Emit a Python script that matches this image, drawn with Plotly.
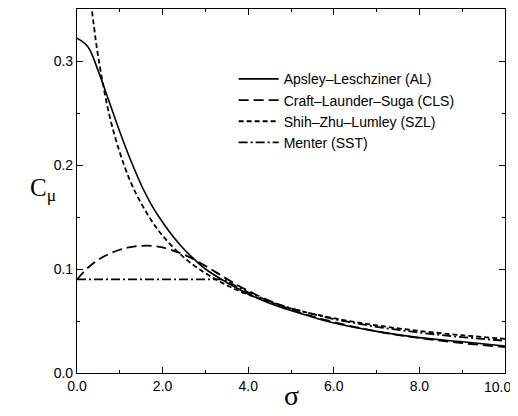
import plotly.graph_objects as go

# sigma grid and series values
sigma_al = [0, 0.25, 0.5, 0.75, 1.0, 1.25, 1.5, 1.75, 2.0, 2.25, 2.5, 2.75, 3.0, 3.5, 4.0, 4.5, 5.0, 6.0, 7.0, 8.0, 9.0, 10.0]
cmu_al = [0.322, 0.314, 0.290, 0.261, 0.232, 0.205, 0.181, 0.161, 0.145, 0.131, 0.119, 0.109, 0.100, 0.087, 0.076, 0.067, 0.060, 0.048, 0.040, 0.034, 0.030, 0.026]

sigma_cls = [0, 0.25, 0.5, 0.75, 1.0, 1.25, 1.5, 1.75, 2.0, 2.5, 3.0, 3.5, 4.0, 5.0, 6.0, 7.0, 8.0, 9.0, 10.0]
cmu_cls = [0.090, 0.101, 0.109, 0.1145, 0.1185, 0.121, 0.1223, 0.1223, 0.1207, 0.1138, 0.103, 0.0905, 0.079, 0.061, 0.049, 0.040, 0.0336, 0.0287, 0.0249]

sigma_szl = [0.2, 0.3, 0.4, 0.5, 0.75, 1.0, 1.25, 1.5, 1.75, 2.0, 2.5, 3.0, 3.5, 4.0, 5.0, 6.0, 7.0, 8.0, 9.0, 10.0]
cmu_szl = [0.409, 0.366, 0.332, 0.303, 0.249, 0.212, 0.184, 0.163, 0.146, 0.132, 0.111, 0.096, 0.0844, 0.0754, 0.062, 0.0527, 0.0458, 0.0405, 0.0363, 0.0329]

sigma_sst = [0, 3.44, 3.75, 4.0, 4.5, 5.0, 6.0, 7.0, 8.0, 9.0, 10.0]
cmu_sst = [0.090, 0.090, 0.0827, 0.0775, 0.0689, 0.062, 0.0517, 0.0443, 0.0388, 0.0344, 0.031]

x_ticks = [0, 2, 4, 6, 8, 10]
x_tick_labels = ["0.0", "2.0", "4.0", "6.0", "8.0", ""]
last_x_label = "10.0"
y_ticks = [0.0, 0.1, 0.2, 0.3]
y_tick_labels = ["0.0", "0.1", "0.2", "0.3"]

fig = go.Figure()
fig.add_trace(go.Scatter(x=sigma_al, y=cmu_al, mode="lines", name="Apsley\u2013Leschziner (AL)",
                         line=dict(color="black", width=1.6, shape="spline")))
fig.add_trace(go.Scatter(x=sigma_cls, y=cmu_cls, mode="lines", name="Craft\u2013Launder\u2013Suga (CLS)",
                         line=dict(color="black", width=1.8, dash="10px,5px", shape="spline")))
fig.add_trace(go.Scatter(x=sigma_szl, y=cmu_szl, mode="lines", name="Shih\u2013Zhu\u2013Lumley (SZL)",
                         line=dict(color="black", width=1.8, dash="5px,3px", shape="spline")))
fig.add_trace(go.Scatter(x=sigma_sst, y=cmu_sst, mode="lines", name="Menter (SST)",
                         line=dict(color="black", width=1.8, dash="9px,3px,2px,3px")))

axis_common = dict(showgrid=False, zeroline=False, showline=True, linecolor="black", linewidth=1.2,
                   mirror="ticks", ticks="inside", ticklen=6, tickcolor="black", tickwidth=1,
                   tickfont=dict(family="Liberation Sans", size=14, color="black"))

fig.update_xaxes(range=[0, 10], tickvals=x_ticks, ticktext=x_tick_labels,
                 minor=dict(tickvals=[1, 3, 5, 7, 9], ticks="inside", ticklen=3, tickcolor="black"), **axis_common)
fig.update_yaxes(range=[0, 0.35], tickvals=y_ticks, ticktext=y_tick_labels,
                 minor=dict(tickvals=[0.05, 0.15, 0.25], ticks="inside", ticklen=3, tickcolor="black"), **axis_common)

# last x tick label placed near the right edge so it is not clipped
fig.add_annotation(text=last_x_label, xref="paper", yref="paper", x=1.018, y=-0.012,
                   xanchor="right", yanchor="top", showarrow=False,
                   font=dict(family="Liberation Sans", size=14, color="black"))

fig.add_annotation(text="\u03c3", xref="paper", yref="paper", x=0.5, y=-0.062, yanchor="middle",
                   showarrow=False, font=dict(family="Liberation Serif", size=28, color="black"))
fig.add_annotation(text="C<sub>\u03bc</sub>", xref="paper", yref="paper", x=-0.08, y=0.505,
                   xanchor="center", yanchor="middle", showarrow=False,
                   font=dict(family="Liberation Serif", size=25, color="black"))

# the page body adds an 8px offset, so the figure is 8px smaller and margins shifted
fig.update_layout(
    width=510, height=408,
    margin=dict(l=69, r=13, t=1, b=43),
    plot_bgcolor="white", paper_bgcolor="white",
    legend=dict(x=0.366, y=0.851, xanchor="left", yanchor="top", bgcolor="rgba(0,0,0,0)",
                font=dict(family="Liberation Sans", size=14, color="black"),
                tracegroupgap=0, itemwidth=40),
)

fig.write_html("out.html")
